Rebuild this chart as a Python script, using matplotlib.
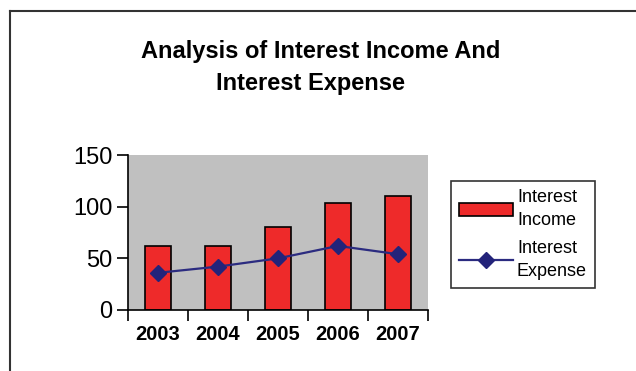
import matplotlib.pyplot as plt
import numpy as np
from matplotlib.lines import Line2D

plt.rcParams['font.family'] = ['Liberation Sans', 'DejaVu Sans']

years = ['2003', '2004', '2005', '2006', '2007']
income = [62, 62, 80, 104, 110]
expense = [36, 42, 50, 62, 54]

fig = plt.figure(figsize=(6.36, 3.71), dpi=100)
W, H = 636, 371
# plot area in pixels: left 128, right 428, top 155, bottom 310
ax = fig.add_axes([128 / W, 1 - 310 / H, 300 / W, 155 / H])
ax.set_facecolor('#c0c0c0')

x = np.arange(len(years))
bars = ax.bar(x, income, width=0.43, color='#ee2a2a', edgecolor='black', linewidth=1.2,
              label='Interest\nIncome', zorder=2)
line, = ax.plot(x, expense, color='#2b2b80', linewidth=1.6, marker='D', markersize=8,
                markerfacecolor='#23237a', markeredgecolor='#23237a',
                label='Interest\nExpense', zorder=3)

ax.set_xlim(-0.5, 4.5)
ax.set_ylim(0, 150)
ax.set_yticks([0, 50, 100, 150])
ax.tick_params(axis='y', direction='out', length=8, width=1.2, labelsize=17, pad=3)

# category boundaries get the tick marks, labels sit at the centres
ax.set_xticks(np.arange(-0.5, 5, 1))
ax.set_xticklabels([])
ax.set_xticks(x, minor=True)
ax.set_xticklabels(years, minor=True, fontsize=14.5, fontweight='bold')
ax.tick_params(axis='x', which='major', direction='out', length=8, width=1.2)
ax.tick_params(axis='x', which='minor', length=0, pad=11)

for s in ['top', 'right']:
    ax.spines[s].set_visible(False)
for s in ['left', 'bottom']:
    ax.spines[s].set_linewidth(1.2)

fig.text(321 / W, 1 - 58 / H, 'Analysis of Interest Income And', ha='center',
         va='baseline', fontsize=17, fontweight='bold')
fig.text(310 / W, 1 - 90 / H, 'Interest Expense', ha='center',
         va='baseline', fontsize=17, fontweight='bold')

leg = fig.legend(handles=[bars, line], loc='upper left',
                 bbox_to_anchor=(451 / W, 1 - 181 / H),
                 fontsize=13, frameon=True, fancybox=False, edgecolor='black',
                 handlelength=3.0, handletextpad=0.2, borderpad=0.45,
                 labelspacing=0.6, borderaxespad=0)
for t in leg.get_texts():
    t.set_linespacing(1.45)
leg.get_frame().set_linewidth(1.2)

# outer frame: top and left edges only
fig.add_artist(Line2D([9.5 / W, 1], [1 - 11 / H, 1 - 11 / H], color='#333333', lw=1.5))
fig.add_artist(Line2D([9.5 / W, 9.5 / W], [0, 1 - 11 / H], color='#333333', lw=1.5))

fig.savefig('out.png', dpi=100)
